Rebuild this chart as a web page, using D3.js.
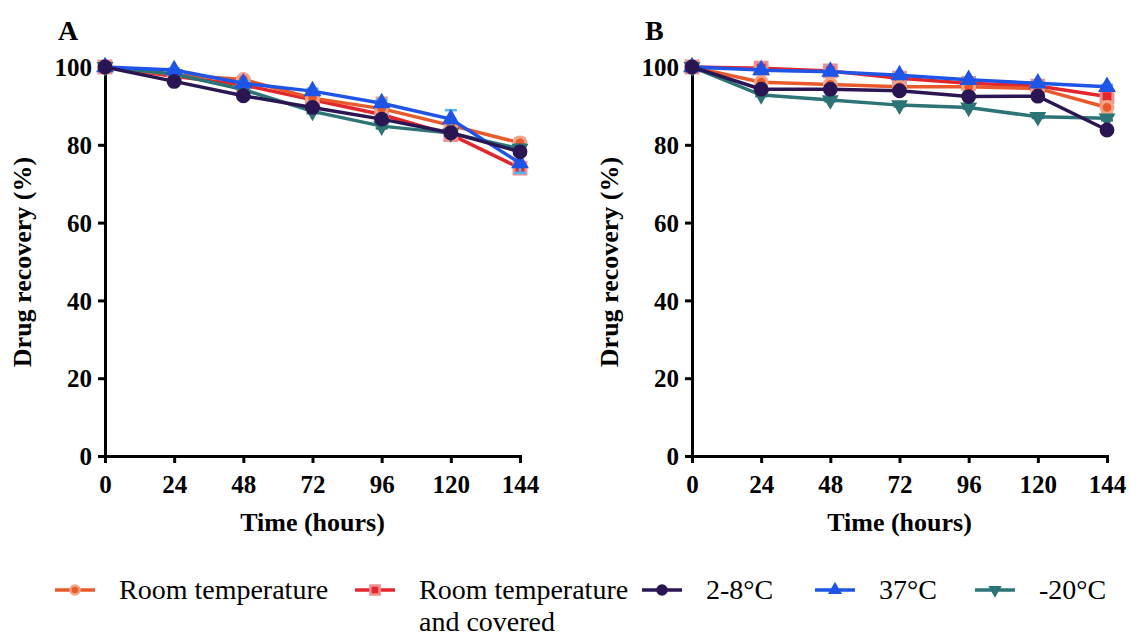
<!DOCTYPE html>
<html>
<head>
<meta charset="utf-8">
<script src="https://cdn.jsdelivr.net/npm/d3@7"></script>
<style>
  body { margin: 0; background: #fff; }
  text { font-family: "Liberation Serif", "Times New Roman", Times, "DejaVu Serif", serif; }
</style>
</head>
<body>
<div id="chart"></div>
<script>
const hours = [0, 24, 48, 72, 96, 120, 144];
const yTicks = [0, 20, 40, 60, 80, 100];

// panel A
const roomA    = [100, 98.0, 96.8, 92.0, 89.3, 85.0, 80.5];
const coveredA = [100, 97.6, 95.4, 91.6, 87.8, 82.6, 74.0];
const coldA    = [100, 96.3, 92.6, 89.6, 86.6, 83.1, 78.2];
const warmA    = [100, 99.2, 95.8, 93.8, 90.7, 86.6, 75.3];
const frozenA  = [100, 98.2, 94.2, 88.6, 84.8, 83.0, 79.0];
const roomAsd    = [0, 0.5, 0.8, 0.8, 2.8, 1.0, 1.2];
const coveredAsd = [0, 0.4, 0.6, 0.8, 1.0, 1.0, 1.4];
const coldAsd    = [0, 0.5, 0.5, 0.5, 0.6, 0.6, 0.8];
const warmAsd    = [0, 0.4, 0.6, 0.6, 0.8, 2.3, 2.5];
const frozenAsd  = [0, 0.4, 0.6, 0.5, 0.6, 0.6, 1.0];

// panel B
const roomB    = [100, 96.1, 95.5, 94.9, 94.9, 94.5, 89.6];
const coveredB = [100, 99.7, 99.0, 97.1, 95.8, 95.1, 92.4];
const coldB    = [100, 94.3, 94.3, 93.9, 92.4, 92.5, 83.8];
const warmB    = [100, 99.2, 98.8, 97.9, 96.7, 95.8, 94.9];
const frozenB  = [100, 92.8, 91.5, 90.2, 89.6, 87.2, 86.8];
const roomBsd    = [0, 0.5, 0.5, 0.5, 0.5, 0.5, 1.5];
const coveredBsd = [0, 0.6, 0.6, 0.5, 0.5, 0.5, 1.2];
const coldBsd    = [0, 0.3, 0.3, 0.3, 0.3, 0.3, 0.5];
const warmBsd    = [0, 0.3, 0.3, 0.3, 0.3, 0.3, 0.5];
const frozenBsd  = [0, 0.3, 0.3, 0.3, 0.3, 0.3, 0.5];

const seriesNames = ["Room temperature", "Room temperature|and covered", "2-8°C", "37°C", "-20°C"];

const serif = '"Liberation Serif", "Times New Roman", Times, "DejaVu Serif", serif';

const styles = {
  room:    {line: "#e8592b", fill: "#e8592b", stroke: "#f3a486", shape: d3.symbolCircle, size: 110, err: "#f0a080"},
  covered: {line: "#e3262c", fill: "#e3262c", stroke: "#ee8f8f", shape: d3.symbolSquare, size: 140, err: "#ee8f8f"},
  cold:    {line: "#2b1654", fill: "#2b1654", stroke: "#2b1654", shape: d3.symbolCircle, size: 110, err: "#9b7fc0"},
  warm:    {line: "#1f55e6", fill: "#1f55e6", stroke: "#1f55e6", shape: d3.symbolTriangle, size: 70, err: "#4fb8f0"},
  frozen:  {line: "#2d7476", fill: "#2d7476", stroke: "#2d7476", shape: d3.symbolTriangle, size: 60, err: "#2d7476", flip: true}
};

const W = 1130, H = 636;
const svg = d3.select("#chart").append("svg").attr("width", W).attr("height", H);

function panel(left, letter, sets) {
  const x = d3.scaleLinear().domain([0, 144]).range([left, left + 415]);
  const y = d3.scaleLinear().domain([0, 100]).range([456, 67]);
  const g = svg.append("g");

  g.append("text").attr("x", left - 47).attr("y", 40).style("font-family", serif)
    .style("font-size", "28px").style("font-weight", "bold").text(letter);

  const xAxis = g.append("g").attr("transform", "translate(0,456)")
    .call(d3.axisBottom(x).tickValues(hours).tickSize(7).tickPadding(12));
  const yAxis = g.append("g").attr("transform", `translate(${left},0)`)
    .call(d3.axisLeft(y).tickValues(yTicks).tickSize(7).tickPadding(6));
  [xAxis, yAxis].forEach(a => {
    a.attr("font-family", serif);
    a.select(".domain").attr("stroke", "#000").attr("stroke-width", 3);
    a.selectAll(".tick line").attr("stroke", "#000").attr("stroke-width", 3);
    a.selectAll(".tick text").attr("fill", "#000")
      .style("font-family", serif).style("font-size", "25px").style("font-weight", "bold");
  });
  xAxis.selectAll(".tick text").attr("dy", "0.71em");
  yAxis.selectAll(".tick text").attr("dy", "0.35em");

  g.append("text").attr("x", (x(0) + x(144)) / 2).attr("y", 531)
    .attr("text-anchor", "middle").style("font-family", serif).style("font-size", "26px").style("font-weight", "bold")
    .text("Time (hours)");
  g.append("text").attr("transform", `translate(${left - 74},262) rotate(-90)`)
    .attr("text-anchor", "middle").style("font-family", serif).style("font-size", "26px").style("font-weight", "bold")
    .text("Drug recovery (%)");

  const line = d3.line().x((d, i) => x(hours[i])).y(d => y(d));

  sets.forEach(s => {
    const st = styles[s.key];
    // error bars
    const eb = g.append("g");
    s.values.forEach((v, i) => {
      if (!s.sd[i]) return;
      const cx = x(hours[i]);
      eb.append("line").attr("x1", cx).attr("x2", cx).attr("y1", y(v - s.sd[i])).attr("y2", y(v + s.sd[i]))
        .attr("stroke", st.err).attr("stroke-width", 2.5);
      [v - s.sd[i], v + s.sd[i]].forEach(e => {
        eb.append("line").attr("x1", cx - 6).attr("x2", cx + 6).attr("y1", y(e)).attr("y2", y(e))
          .attr("stroke", st.err).attr("stroke-width", 2.5);
      });
    });
    g.append("path").datum(s.values).attr("d", line)
      .attr("fill", "none").attr("stroke", st.line).attr("stroke-width", 3.5);
    g.selectAll(null).data(s.values).enter().append("path")
      .attr("d", d3.symbol().type(st.shape).size(st.size))
      .attr("transform", (d, i) => `translate(${x(hours[i])},${y(d)})${st.flip ? " rotate(180)" : ""}`)
      .attr("fill", st.fill).attr("stroke", st.stroke).attr("stroke-width", 3);
  });
}

panel(105, "A", [
  {key: "covered", values: coveredA, sd: coveredAsd},
  {key: "room", values: roomA, sd: roomAsd},
  {key: "frozen", values: frozenA, sd: frozenAsd},
  {key: "warm", values: warmA, sd: warmAsd},
  {key: "cold", values: coldA, sd: coldAsd}
]);
panel(692, "B", [
  {key: "covered", values: coveredB, sd: coveredBsd},
  {key: "room", values: roomB, sd: roomBsd},
  {key: "frozen", values: frozenB, sd: frozenBsd},
  {key: "warm", values: warmB, sd: warmBsd},
  {key: "cold", values: coldB, sd: coldBsd}
]);

// legend
const legendKeys = ["room", "covered", "cold", "warm", "frozen"];
const legendX = [55, 355, 642, 815, 975];
const leg = svg.append("g");
legendKeys.forEach((k, i) => {
  const st = styles[k];
  const lx = legendX[i], ly = 590;
  leg.append("line").attr("x1", lx).attr("x2", lx + 40).attr("y1", ly).attr("y2", ly)
    .attr("stroke", st.line).attr("stroke-width", 3.5);
  leg.append("path").attr("d", d3.symbol().type(st.shape).size(st.size * 0.6))
    .attr("transform", `translate(${lx + 20},${ly})${st.flip ? " rotate(180)" : ""}`)
    .attr("fill", st.fill).attr("stroke", st.stroke).attr("stroke-width", 2.5);
  const parts = seriesNames[i].split("|");
  const t = leg.append("text").attr("x", lx + 64).attr("y", ly + 9)
    .style("font-family", serif).style("font-size", "28px");
  parts.forEach((p, j) => {
    t.append("tspan").attr("x", lx + 64).attr("dy", j === 0 ? 0 : 32).text(p);
  });
});
</script>
</body>
</html>
